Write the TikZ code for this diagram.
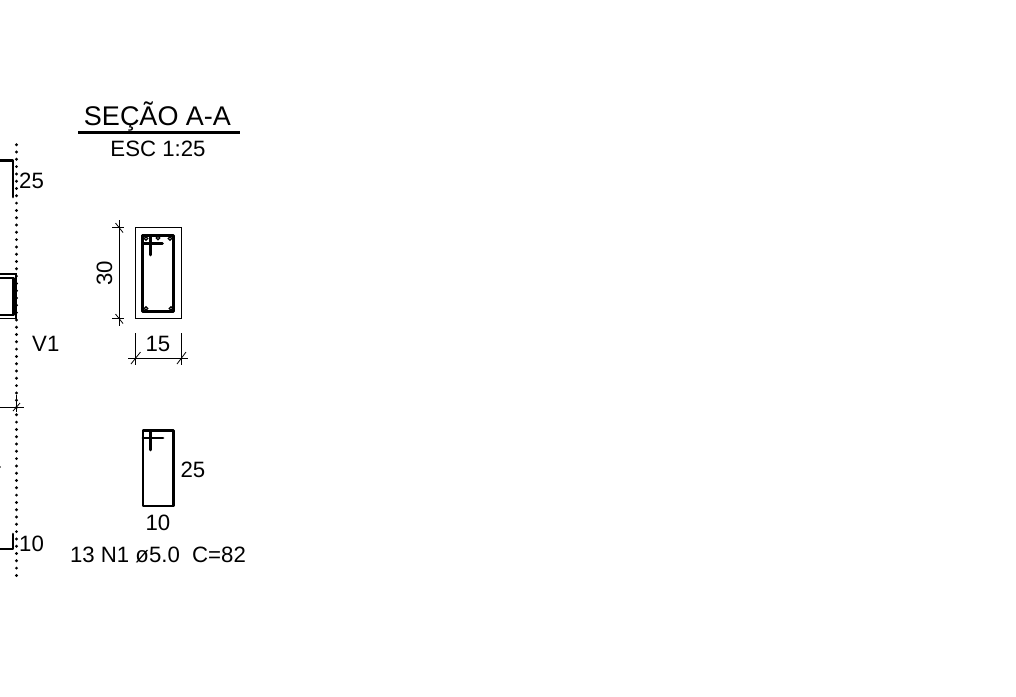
\documentclass[tikz,border=0pt]{standalone}
\usepackage{fontspec}
\setmainfont{Liberation Sans}
\tikzset{
  thick line/.style={line width=2.7pt,line cap=round,line join=round},
  thin line/.style={line width=1.1pt},
  dim line/.style={line width=0.8pt},
  lab/.style={inner sep=0pt,font=\fontsize{22.2}{24}\selectfont},
  title lab/.style={inner sep=0pt,font=\fontsize{27}{29}\selectfont},
  rebar/.style={circle,draw,line width=1.1pt,fill=white,minimum size=3.5pt,inner sep=0pt}
}
\begin{document}
\begin{tikzpicture}[x=1pt,y=-1pt]
\useasboundingbox (0,0) rectangle (1016,696);
% title
\node[title lab] (title) at (157.5,117) {SEÇÃO A-A};
\draw[line width=3pt] (78,132) -- (240,132);
\node[lab] (esc) at (158,148.5) {ESC 1:25};
% dotted axis
\draw[line width=3.2pt,line cap=round,dash pattern=on 0pt off 7.3pt] (16.5,144.7) -- (16.5,577);
% left fragments
\draw[thick line] (-2,160.5) -- (13,160.5) -- (13,197);
\node[lab,anchor=west] (a25) at (19,181) {25};
\draw[thin line] (-2,274) -- (16,274) -- (16,318.5) -- (-2,318.5);
\draw[thick line] (-2,278) -- (13.5,278) -- (13.5,315) -- (-2,315);
\node[lab,anchor=west] (v1) at (32,343.5) {V1};
\draw[dim line] (-2,407) -- (24,407);
\draw[dim line] (13,411) -- (20,403);
\draw[dim line] (16.5,395) -- (16.5,412);
\fill (0,467) circle (0.9);
\draw[thick line] (-2,549) -- (13,549) -- (13,534);
\node[lab,anchor=west] (a10) at (19,543.5) {10};
% section
\draw[thin line] (135.8,227.8) rectangle (181.3,318.8);
\draw[thick line] (142.6,235.2) rectangle (173.4,311.6);
\draw[thick line] (143,243.3) -- (162.5,243.3);
\draw[thick line] (150.7,236) -- (150.7,255);
\foreach \p/\q in {146/238.5,158/238,170/238.5,146/308.5,171/308.5}
  \node[rebar] at (\p,\q) {};
% dim 30
\draw[dim line] (119.3,220) -- (119.3,326);
\draw[dim line] (112,227.8) -- (124,227.8);
\draw[dim line] (112,318.8) -- (124,318.8);
\draw[dim line] (115.5,223) -- (123,232.5);
\draw[dim line] (115.5,314) -- (123,323.5);
\node[lab,rotate=90] (d30) at (104.5,273) {30};
% dim 15
\draw[dim line] (128,358) -- (188,358);
\draw[dim line] (135.8,333) -- (135.8,365);
\draw[dim line] (181.5,333) -- (181.5,365);
\draw[dim line] (131,364) -- (140.5,352);
\draw[dim line] (177,364) -- (186,352);
\node[lab] (d15) at (158,344) {15};
% stirrup
\draw[thick line] (143,430.5) rectangle (173.5,506);
\draw[thick line] (143,438) -- (163,438);
\draw[thick line] (150.5,431) -- (150.5,450);
\node[lab] (s25) at (193,469.5) {25};
\node[lab] (s10) at (158,522.5) {10};
\node[lab] (note) at (158,554.5) {13 N1 ø5.0\ \ C=82};
\end{tikzpicture}
\end{document}
